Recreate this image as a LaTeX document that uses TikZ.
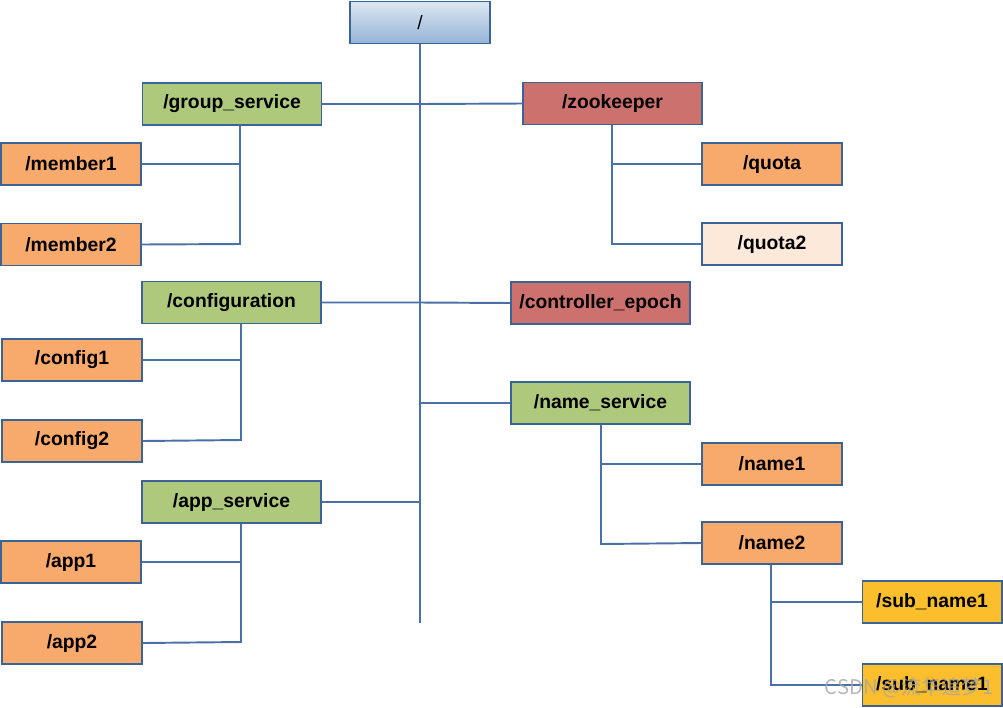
\documentclass[tikz,border=0pt]{standalone}
\usepackage{fontspec}
\setmainfont{Liberation Sans}
\newfontfamily\cjk{Noto Sans CJK SC}
\definecolor{lineblue}{HTML}{4A70A6}
\definecolor{edgeblue}{HTML}{3B6496}
\definecolor{roottop}{HTML}{DCE6F2}
\definecolor{rootbottom}{HTML}{95B3D7}
\definecolor{dirgreen}{HTML}{AFC97C}
\definecolor{dirred}{HTML}{CD716E}
\definecolor{leaforange}{HTML}{F8A96C}
\definecolor{leafpale}{HTML}{FDE9D9}
\definecolor{leafgold}{HTML}{FBBE2C}
\tikzset{
    znode/.style={draw=edgeblue, line width=0.6pt, rectangle, inner sep=0pt,
        minimum height=0.84cm, font=\fontsize{11}{13}\selectfont\bfseries},
    dirbox/.style={znode, minimum width=3.58cm, fill=dirgreen},
    zkbox/.style={znode, minimum width=3.58cm, fill=dirred},
    leafbox/.style={znode, minimum width=2.8cm, fill=leaforange},
    link/.style={lineblue, line width=1.1pt}
}
\begin{document}
\begin{tikzpicture}[x=0.02cm, y=-0.02cm]
    \useasboundingbox (0,0) rectangle (1003,707);
    % Nodes
    \node[znode, minimum width=2.8cm, top color=roottop, bottom color=rootbottom, font=\fontsize{11}{13}\selectfont] (root) at (420,22.5) {/};
    \node[dirbox] (group) at (232,104) {/group\_service};
    \node[zkbox] (zk) at (612.5,103.5) {/zookeeper};
    \node[leafbox] (member1) at (71,164) {/member1};
    \node[leafbox] (member2) at (71,244.5) {/member2};
    \node[leafbox] (quota) at (772,164) {/quota};
    \node[leafbox, fill=leafpale] (quota2) at (772,244) {/quota2};
    \node[dirbox] (config) at (231.5,302.5) {/configuration};
    \node[zkbox] (epoch) at (600.5,303) {/controller\_epoch};
    \node[leafbox] (config1) at (72,360) {/config1};
    \node[leafbox] (config2) at (72,441) {/config2};
    \node[dirbox] (names) at (600.5,403) {/name\_service};
    \node[leafbox] (name1) at (772,464) {/name1};
    \node[dirbox] (app) at (231.5,502) {/app\_service};
    \node[leafbox] (name2) at (772,543) {/name2};
    \node[leafbox] (app1) at (71,562) {/app1};
    \node[leafbox, fill=leafgold] (sub1) at (932,602) {/sub\_name1};
    \node[leafbox] (app2) at (72,643) {/app2};
    \node[leafbox, fill=leafgold] (sub2) at (932,685) {/sub\_name1};

    % Junction points
    \coordinate (trunkend) at (420,623);
    \coordinate (gj) at (240,244);
    \coordinate (cj) at (241,440);
    \coordinate (aj) at (241,642);
    \coordinate (zj) at (612,244);
    \coordinate (nj) at (601,544);
    \coordinate (sj) at (771,685);

    % Lines
    \draw[link] (root.south) -- (trunkend);
    \draw[link] (group.east) -- (group.east -| trunkend) -- (zk.west);
    \draw[link] (config.east) -- (config.east -| trunkend) -- (epoch.west);
    \draw[link] (names.west -| trunkend) -- (names.west);
    \draw[link] (app.east) -- (app.east -| trunkend);
    \draw[link] (group.south -| gj) -- (gj) -- (member2.east);
    \draw[link] (member1.east) -- (member1.east -| gj);
    \draw[link] (config.south -| cj) -- (cj) -- (config2.east);
    \draw[link] (config1.east) -- (config1.east -| cj);
    \draw[link] (app.south -| aj) -- (aj) -- (app2.east);
    \draw[link] (app1.east) -- (app1.east -| aj);
    \draw[link] (zk.south -| zj) -- (zj) -- (quota2.west);
    \draw[link] (quota.west -| zj) -- (quota.west);
    \draw[link] (names.south -| nj) -- (nj) -- (name2.west);
    \draw[link] (name1.west -| nj) -- (name1.west);
    \draw[link] (name2.south -| sj) -- (sj) -- (sub2.west);
    \draw[link] (sub1.west -| sj) -- (sub1.west);

    % Watermark
    \node[text=gray!70, opacity=0.8, font=\fontsize{11.5}{13}\selectfont\cjk] (mark) at (909,688) {CSDN @流华追梦1};
\end{tikzpicture}
\end{document}
